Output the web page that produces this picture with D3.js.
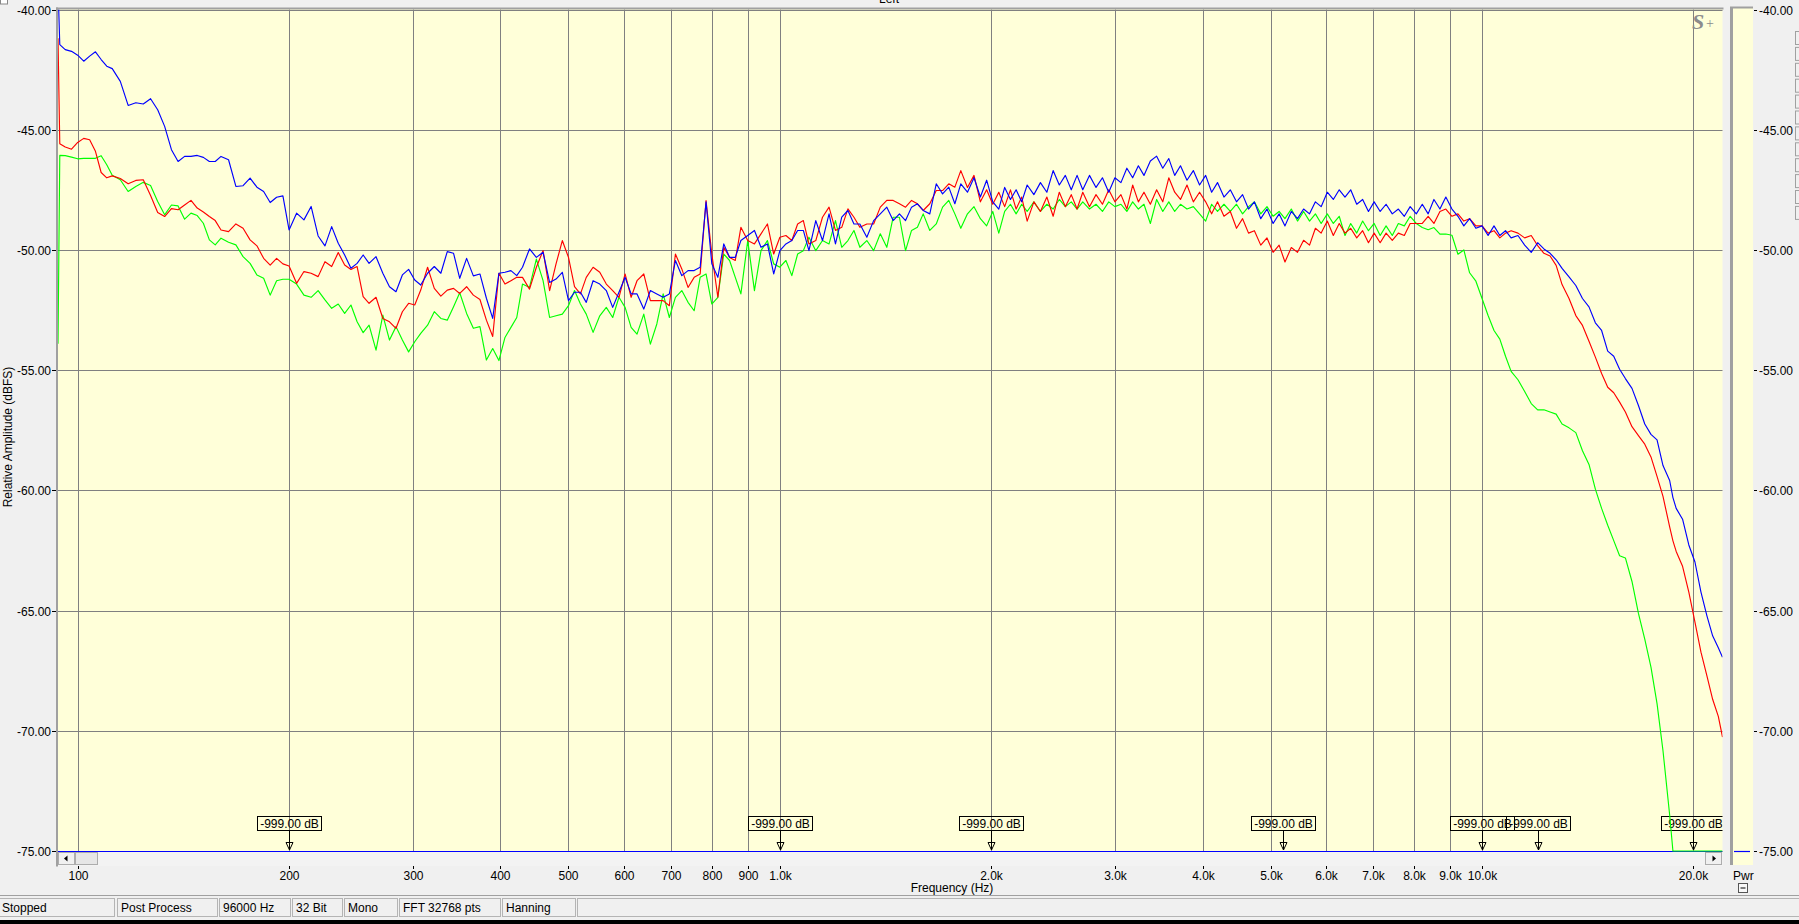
<!DOCTYPE html>
<html><head><meta charset="utf-8">
<script src="https://cdn.jsdelivr.net/npm/d3@7"></script>
<style>
html,body{margin:0;padding:0;background:#f0f0f0;overflow:hidden}
svg{display:block;font-family:"Liberation Sans",Arial,sans-serif}
</style></head><body>
<svg id="c" width="1799" height="924"></svg>
<script>
// ---------------- data ----------------
const freqHz = [
  93.75,94.3,96,98,100,102,104,106,108,110,112,115,118,121,124,127,130,133,136,139,142,145,148,151,154,157,160,164,168,172,176,180,184,188,192,196,200,205,210,215,220,225,230,235,240,245,250,255,260,266,272,278,284,290,296,302,308,315,322,329,336,343,350,358,366,374,382,390,398,
  406,414,422,430,440,450,460,470,480,490,500,510,520,530,542,554,566,578,590,602,614,626,640,654,668,682,696,710,725,740,755,770,785,800,816,832,848,864,880,900,920,940,960,980,1000,1020,1040,1060,1080,1100,1125,1150,1175,1200,1225,1250,1275,1300,1330,1360,1390,1420,1450,1480,1510,1540,1570,1600,1635,1670,1705,1740,1775,
  1810,1850,1890,1930,1970,2010,2050,2090,2130,2170,2210,2250,2300,2350,2400,2450,2500,2550,2600,2650,2700,2760,2820,2880,2940,3000,3060,3120,3180,3240,3300,3370,3440,3510,3580,3650,3720,3800,3880,3960,4040,4120,4200,4290,4380,4470,4560,4650,4740,4840,4940,5040,5140,5240,5350,5460,5570,5680,5790,5900,6020,6140,6260,6380,6500,6630,6760,6890,7020,7160,7300,7450,7600,7750,7900,8060,
  8220,8380,8540,8710,8880,9060,9240,9420,9600,9800,10000,10200,10400,10600,10800,11000,11250,11500,11750,12000,12250,12500,12750,13000,13300,13600,13900,14200,14500,14800,15100,15400,15700,16000,16350,16700,17050,17400,17750,18100,18500,18700,18900,19300,19700,20100,20500,20900,21300,21700,22000
];
const blueDb = [
  -39.0,-41.46,-41.67,-41.74,-41.9,-42.15,-41.94,-41.76,-42.08,-42.36,-42.46,-42.99,-43.99,-43.88,-43.93,-43.71,-44.17,-44.86,-45.83,-46.32,-46.11,-46.11,-46.07,-46.15,-46.32,-46.32,-46.11,-46.25,-47.36,-47.33,-47.01,-47.39,-47.57,-48.03,-47.81,-47.75,-49.17,-48.47,-48.75,-48.19,-49.42,-49.83,-49.03,-49.72,-50.21,-50.76,-50.56,-50.21,-50.56,-50.28,-50.97,-51.53,-51.74,-51.04,-50.81,-51.25,-51.46,-50.97,-50.69,-50.97,-50.07,-50.14,-51.18,-50.35,-51.08,-51.0,-52.01,-52.85,-50.97,
  -50.93,-50.86,-51.07,-50.72,-49.96,-50.31,-50.1,-51.35,-51.21,-50.93,-52.11,-51.76,-51.76,-52.18,-51.28,-51.42,-51.69,-52.39,-51.76,-51.14,-51.83,-51.83,-52.46,-51.69,-51.83,-51.97,-51.83,-50.44,-51.07,-50.86,-50.86,-50.72,-48.0,-50.58,-51.14,-49.75,-50.31,-50.31,-49.61,-49.4,-49.19,-49.89,-49.75,-51.0,-50.03,-49.75,-49.61,-49.19,-49.19,-50.03,-48.78,-49.61,-48.5,-49.75,-48.64,-48.36,-48.92,-48.92,-49.47,-48.78,-48.5,-48.22,-48.78,-48.5,-48.78,-48.22,-48.08,-48.36,-48.5,-47.25,-47.67,-47.39,-48.08,
  -47.25,-47.6,-47.0,-47.8,-47.1,-48.0,-48.3,-47.4,-47.9,-47.5,-48.0,-47.3,-47.7,-47.2,-47.6,-46.7,-47.3,-46.9,-47.5,-46.9,-47.5,-46.9,-47.4,-47.0,-47.6,-47.0,-47.2,-46.6,-47.0,-46.5,-46.9,-46.3,-46.1,-46.6,-46.2,-46.9,-46.5,-47.1,-46.7,-47.3,-46.9,-47.6,-47.2,-47.8,-47.5,-48.0,-47.7,-48.3,-48.0,-48.7,-48.3,-48.9,-48.5,-49.0,-48.4,-48.7,-48.3,-48.5,-48.0,-48.2,-47.6,-47.9,-47.5,-47.8,-47.5,-48.1,-47.9,-48.4,-48.0,-48.4,-48.1,-48.5,-48.3,-48.6,-48.2,-48.5,
  -48.1,-48.5,-47.9,-48.3,-47.8,-48.3,-48.6,-49.0,-48.7,-49.1,-49.0,-49.4,-49.0,-49.4,-49.2,-49.5,-49.4,-49.8,-50.1,-49.7,-49.96,-50.14,-50.41,-50.77,-51.12,-51.48,-52.02,-52.37,-53.03,-53.35,-54.21,-54.42,-54.96,-55.35,-55.76,-56.47,-57.24,-57.67,-57.9,-58.97,-59.59,-60.3,-60.75,-61.2,-62.27,-62.98,-64.23,-65.21,-66.05,-66.55,-66.94
];
const redDb = [
  -41.2,-45.58,-45.72,-45.81,-45.53,-45.36,-45.42,-45.9,-46.78,-47.0,-46.92,-47.03,-47.25,-47.11,-47.08,-47.74,-48.44,-48.61,-48.28,-48.33,-48.13,-47.94,-48.26,-48.42,-48.61,-48.78,-49.17,-49.24,-48.92,-49.1,-49.58,-49.83,-50.35,-50.63,-50.35,-50.58,-50.67,-51.39,-50.9,-50.97,-51.11,-50.49,-50.69,-50.11,-50.63,-50.81,-50.69,-51.94,-52.22,-51.97,-52.85,-52.99,-53.26,-52.57,-52.22,-52.29,-51.67,-50.72,-51.6,-51.92,-51.67,-51.6,-51.81,-51.53,-51.88,-52.06,-52.92,-53.6,-50.97,
  -51.42,-51.28,-51.14,-51.14,-51.63,-50.72,-50.03,-51.69,-50.58,-49.61,-50.31,-51.53,-51.83,-51.14,-50.72,-50.93,-51.42,-51.69,-51.97,-51.0,-51.97,-51.28,-51.0,-52.11,-52.11,-52.11,-52.32,-50.17,-50.79,-51.56,-51.14,-51.0,-47.95,-50.17,-51.97,-49.89,-50.31,-50.44,-49.06,-49.61,-49.75,-49.33,-48.92,-50.17,-49.47,-49.4,-49.61,-48.92,-48.78,-49.75,-49.61,-48.64,-48.22,-49.19,-49.06,-48.29,-48.64,-49.06,-48.92,-48.92,-48.22,-47.94,-47.94,-48.08,-48.22,-47.94,-48.08,-48.36,-48.08,-47.53,-47.53,-47.25,-47.39,
  -46.7,-47.4,-46.9,-48.0,-47.5,-48.1,-47.6,-48.2,-47.5,-48.3,-47.8,-48.8,-48.0,-48.4,-47.8,-48.6,-47.6,-48.2,-47.7,-48.3,-47.6,-48.2,-47.7,-48.1,-47.5,-48.0,-47.7,-48.3,-47.3,-48.0,-47.6,-48.1,-47.5,-48.0,-47.0,-47.6,-47.9,-47.3,-48.0,-47.6,-48.0,-48.5,-48.0,-48.6,-48.4,-49.1,-48.7,-49.3,-49.2,-49.8,-49.5,-50.1,-49.8,-50.5,-49.9,-50.1,-49.6,-49.8,-49.1,-49.3,-48.8,-49.4,-48.9,-49.3,-49.1,-49.5,-49.2,-49.7,-49.3,-49.7,-49.3,-49.6,-49.3,-49.4,-48.9,-48.9,
  -48.9,-48.6,-48.9,-48.4,-48.3,-48.6,-48.5,-48.8,-48.7,-49.0,-49.0,-49.3,-49.2,-49.5,-49.3,-49.2,-49.3,-49.5,-49.4,-49.82,-50.14,-50.25,-50.64,-51.44,-52.02,-52.73,-53.14,-53.8,-54.46,-55.14,-55.71,-55.94,-56.33,-56.74,-57.35,-57.72,-58.08,-58.61,-59.42,-60.25,-61.52,-62.1,-62.54,-63.16,-64.23,-65.48,-66.73,-67.71,-68.69,-69.4,-70.26
];
const greenDb = [
  -53.9,-46.07,-46.08,-46.14,-46.21,-46.19,-46.19,-46.19,-46.08,-46.46,-46.89,-47.08,-47.57,-47.36,-47.19,-47.32,-47.99,-48.54,-48.13,-48.17,-48.72,-48.47,-48.57,-48.89,-49.58,-49.79,-49.51,-49.68,-49.79,-50.28,-50.56,-51.04,-51.18,-51.88,-51.28,-51.22,-51.22,-51.42,-51.88,-51.97,-51.69,-52.08,-52.43,-52.25,-52.64,-52.29,-52.99,-53.44,-53.13,-54.17,-52.71,-53.75,-53.19,-53.75,-54.24,-53.82,-53.47,-53.13,-52.57,-52.85,-52.92,-52.36,-51.78,-52.64,-53.26,-53.19,-54.58,-54.1,-54.6,
  -53.64,-53.22,-52.81,-51.42,-51.56,-50.38,-51.28,-52.81,-52.74,-52.67,-52.32,-51.69,-52.25,-52.67,-53.43,-52.74,-52.39,-52.81,-51.97,-52.39,-53.22,-53.5,-52.67,-53.92,-53.08,-51.83,-52.81,-51.97,-51.69,-52.18,-52.53,-51.14,-51.0,-52.25,-51.97,-50.17,-50.44,-51.14,-51.83,-49.61,-51.69,-50.03,-49.61,-50.58,-50.72,-50.44,-51.07,-50.17,-50.03,-49.47,-50.03,-49.61,-49.75,-48.78,-49.89,-49.61,-49.19,-49.89,-49.61,-50.03,-49.33,-49.89,-48.64,-48.64,-50.03,-49.19,-49.06,-48.5,-49.19,-48.92,-48.22,-47.94,-48.5,
  -49.1,-48.5,-48.2,-48.7,-49.0,-48.4,-49.3,-48.4,-48.1,-48.5,-48.1,-48.4,-48.0,-48.4,-48.1,-48.3,-47.9,-48.2,-48.0,-48.3,-48.0,-48.3,-48.1,-48.4,-48.0,-48.2,-48.1,-48.4,-48.0,-48.3,-48.1,-48.9,-47.9,-48.4,-48.0,-48.4,-48.1,-48.3,-48.2,-48.5,-48.8,-48.1,-48.4,-48.1,-48.4,-48.1,-48.5,-48.2,-48.0,-48.5,-48.2,-48.6,-48.4,-48.7,-48.3,-48.8,-48.4,-48.8,-48.5,-48.9,-48.5,-48.9,-48.6,-49.4,-48.9,-49.3,-48.8,-49.2,-48.9,-49.4,-49.0,-49.4,-48.9,-49.0,-48.6,-48.9,
  -49.07,-49.16,-49.07,-49.34,-49.34,-49.39,-50.18,-50.0,-50.95,-51.3,-52.02,-52.73,-53.35,-53.71,-54.42,-55.05,-55.4,-55.89,-56.39,-56.65,-56.65,-56.74,-56.83,-57.24,-57.4,-57.6,-58.35,-58.92,-59.95,-60.75,-61.45,-62.09,-62.72,-62.81,-63.79,-65.12,-66.19,-67.35,-68.87,-70.83,-73.5,-75,-75,-75,-75,-75,-75,-75,-75,-75,-75
];
const xTickValues = [100,200,300,400,500,600,700,800,900,1000,2000,3000,4000,5000,6000,7000,8000,9000,10000,20000];
const xTickLabels = ["100","200","300","400","500","600","700","800","900","1.0k","2.0k","3.0k","4.0k","5.0k","6.0k","7.0k","8.0k","9.0k","10.0k","20.0k"];
const yTickValues = [-40,-45,-50,-55,-60,-65,-70,-75];
const yTickLabels = ["-40.00","-45.00","-50.00","-55.00","-60.00","-65.00","-70.00","-75.00"];
const markerFreqs = [200,1000,2000,5200,10000,12000,20000];
const markerLabel = "-999.00 dB";
const statusTexts = ["Stopped","Post Process","96000 Hz","32 Bit","Mono","FFT 32768 pts","Hanning"];
const seriesColors = {green:"#00ff00", red:"#ff0000", blue:"#0000ff"};

// ---------------- drawing ----------------
const svg = d3.select("#c");
const PL = 58, PR = 1722.5, PT = 9.5, PB = 851;
const x = d3.scaleLog().domain([93.75, 22000]).range([PL, PR]);
const y = d3.scaleLinear().domain([-75, -40]).range([PB, PT]);
const px = v => Math.round(v) + 0.5;

svg.append("rect").attr("width",1799).attr("height",924).attr("fill","#f0f0f0");
// tiny corner box
svg.append("rect").attr("x",0.5).attr("y",-3).attr("width",7).attr("height",7).attr("fill","#fff").attr("stroke","#888");

// title (cut off at top)
svg.append("text").attr("x",889).attr("y",2.5).attr("text-anchor","middle").attr("font-size",12).text("Left");

// plot background
svg.append("rect").attr("x",PL).attr("y",PT-1).attr("width",PR-PL).attr("height",PB-PT+1).attr("fill","#ffffd9");

const defs = svg.append("defs");
defs.append("clipPath").attr("id","pc").append("rect").attr("x",PL).attr("y",PT).attr("width",PR-PL).attr("height",PB-PT+1);

// gridlines
const grid = svg.append("g").attr("stroke","#808080").attr("stroke-width",1);
xTickValues.forEach(v => grid.append("line").attr("x1",px(x(v))).attr("x2",px(x(v))).attr("y1",PT).attr("y2",PB));
yTickValues.forEach(v => grid.append("line").attr("x1",PL).attr("x2",PR).attr("y1",px(y(v))).attr("y2",px(y(v))));

// S+ logo
svg.append("text").attr("x",1692).attr("y",29).attr("font-family","Liberation Serif, serif").attr("font-weight","bold").attr("font-style","italic").attr("font-size",22).attr("fill","#8c8c8c").text("S");
svg.append("text").attr("x",1706).attr("y",28).attr("font-family","Liberation Serif, serif").attr("font-size",14).attr("fill","#8c8c8c").text("+");

const plot = svg.append("g").attr("clip-path","url(#pc)");
// bottom blue axis line
plot.append("line").attr("x1",PL).attr("x2",PR).attr("y1",PB+0.5).attr("y2",PB+0.5).attr("stroke","#0000ff").attr("stroke-width",1.2);

// markers
const mk = plot.append("g");
markerFreqs.forEach(f => {
  const mx = px(x(f));
  mk.append("rect").attr("x",mx-32).attr("y",816.5).attr("width",64).attr("height",14).attr("fill","none").attr("stroke","#000");
  mk.append("text").attr("x",mx).attr("y",828).attr("text-anchor","middle").attr("font-size",12).attr("fill","#000").text(markerLabel);
  mk.append("line").attr("x1",mx).attr("x2",mx).attr("y1",830.5).attr("y2",850).attr("stroke","#000");
  mk.append("path").attr("d",`M${mx-3.5},842.5 L${mx+3.5},842.5 L${mx},850 Z`).attr("fill","#ffffd9").attr("stroke","#000");
  mk.append("line").attr("x1",mx).attr("x2",mx).attr("y1",842.5).attr("y2",850).attr("stroke","#000");
});

// series
const idx = d3.range(freqHz.length);
const mkLine = arr => d3.line().x(i => x(freqHz[i])).y(i => y(arr[i]))(idx.filter(i => arr[i] !== undefined));
[["green",greenDb],["red",redDb],["blue",blueDb]].forEach(([k,arr]) => {
  plot.append("path").attr("d",mkLine(arr)).attr("fill","none").attr("stroke",seriesColors[k]).attr("stroke-width",1.15).attr("stroke-linejoin","round");
});

// plot borders (top / left)
svg.append("rect").attr("x",56).attr("y",7.5).attr("width",PR-56+1).attr("height",2).attr("fill","#a0a0a0");
svg.append("rect").attr("x",56).attr("y",7.5).attr("width",2).attr("height",859).attr("fill","#a0a0a0");

// scrollbar
svg.append("rect").attr("x",PL).attr("y",852).attr("width",PR-PL).attr("height",14).attr("fill","#f3f3f3");
svg.append("rect").attr("x",58.5).attr("y",852.5).attr("width",16).attr("height",12).attr("fill","#f0f0f0").attr("stroke","#adadad");
svg.append("path").attr("d","M64,858.5 L67.5,855.5 L67.5,861.5 Z").attr("fill","#000");
svg.append("rect").attr("x",75.5).attr("y",852.5).attr("width",22).attr("height",12).attr("fill","#e6e6e6").attr("stroke","#adadad");
svg.append("rect").attr("x",1705.5).attr("y",852.5).attr("width",16).attr("height",12).attr("fill","#f0f0f0").attr("stroke","#adadad");
svg.append("path").attr("d","M1716,858.5 L1712.5,855.5 L1712.5,861.5 Z").attr("fill","#000");

// x ticks + labels
const xa = svg.append("g").attr("font-size",12).attr("fill","#000");
xTickValues.forEach((v,i) => {
  const tx = px(x(v));
  xa.append("line").attr("x1",tx).attr("x2",tx).attr("y1",866).attr("y2",869).attr("stroke","#000");
  xa.append("text").attr("x",tx).attr("y",880).attr("text-anchor","middle").text(xTickLabels[i]);
});
svg.append("text").attr("x",952).attr("y",892).attr("text-anchor","middle").attr("font-size",12).text("Frequency (Hz)");

// left y ticks + labels
const ya = svg.append("g").attr("font-size",12).attr("fill","#000");
yTickValues.forEach((v,i) => {
  const ty = px(y(v));
  ya.append("line").attr("x1",52).attr("x2",56).attr("y1",ty).attr("y2",ty).attr("stroke","#000");
  ya.append("text").attr("x",51).attr("y",ty+4).attr("text-anchor","end").text(yTickLabels[i]);
});
svg.append("text").attr("transform","translate(12,437) rotate(-90)").attr("text-anchor","middle").attr("font-size",12).text("Relative Amplitude (dBFS)");

// right legend panel
svg.append("rect").attr("x",1730).attr("y",7).attr("width",23).attr("height",858).attr("fill","#ffffd9");
svg.append("rect").attr("x",1730).attr("y",7).attr("width",3).attr("height",858).attr("fill","#a0a0a0");
svg.append("rect").attr("x",1730).attr("y",6.5).attr("width",23).attr("height",2).attr("fill","#a0a0a0");
svg.append("line").attr("x1",1734).attr("x2",1750).attr("y1",px(y(-75))).attr("y2",px(y(-75))).attr("stroke","#0000ff").attr("stroke-width",1.2);
const ra = svg.append("g").attr("font-size",12).attr("fill","#000");
yTickValues.forEach((v,i) => {
  const ty = px(y(v));
  ra.append("line").attr("x1",1754).attr("x2",1757).attr("y1",ty).attr("y2",ty).attr("stroke","#000");
  ra.append("text").attr("x",1759).attr("y",ty+4).text(yTickLabels[i]);
});
svg.append("text").attr("x",1733).attr("y",880).attr("font-size",12).text("Pwr");
svg.append("rect").attr("x",1738.5).attr("y",883.5).attr("width",9).attr("height",9).attr("fill","#f8f8f8").attr("stroke","#555");
svg.append("line").attr("x1",1740.5).attr("x2",1745.5).attr("y1",888).attr("y2",888).attr("stroke","#000");

// right edge cut-off buttons
for (let k = 0; k < 12; k++) {
  svg.append("rect").attr("x",1795.5).attr("y",31.5 + k*15.9).attr("width",8).attr("height",13).attr("fill","#f0f0f0").attr("stroke","#a0a0a0");
}

// status bar
svg.append("line").attr("x1",0).attr("x2",1799).attr("y1",895.5).attr("y2",895.5).attr("stroke","#a0a0a0");
const cellEdges = [[-2,115],[117,218],[219,291],[292,343],[344,398],[399,501],[502,576],[577,1805]];
cellEdges.forEach(([a,b]) => {
  svg.append("rect").attr("x",a+0.5).attr("y",898.5).attr("width",b-a-1).attr("height",18).attr("fill","#f0f0f0").attr("stroke","#b4b4b4");
});
statusTexts.forEach((t,i) => {
  svg.append("text").attr("x",cellEdges[i][0] + (i===0 ? 4 : 4)).attr("y",912).attr("font-size",12).text(t);
});
svg.append("rect").attr("x",0).attr("y",920).attr("width",1799).attr("height",4).attr("fill","#000");
</script>
</body></html>
